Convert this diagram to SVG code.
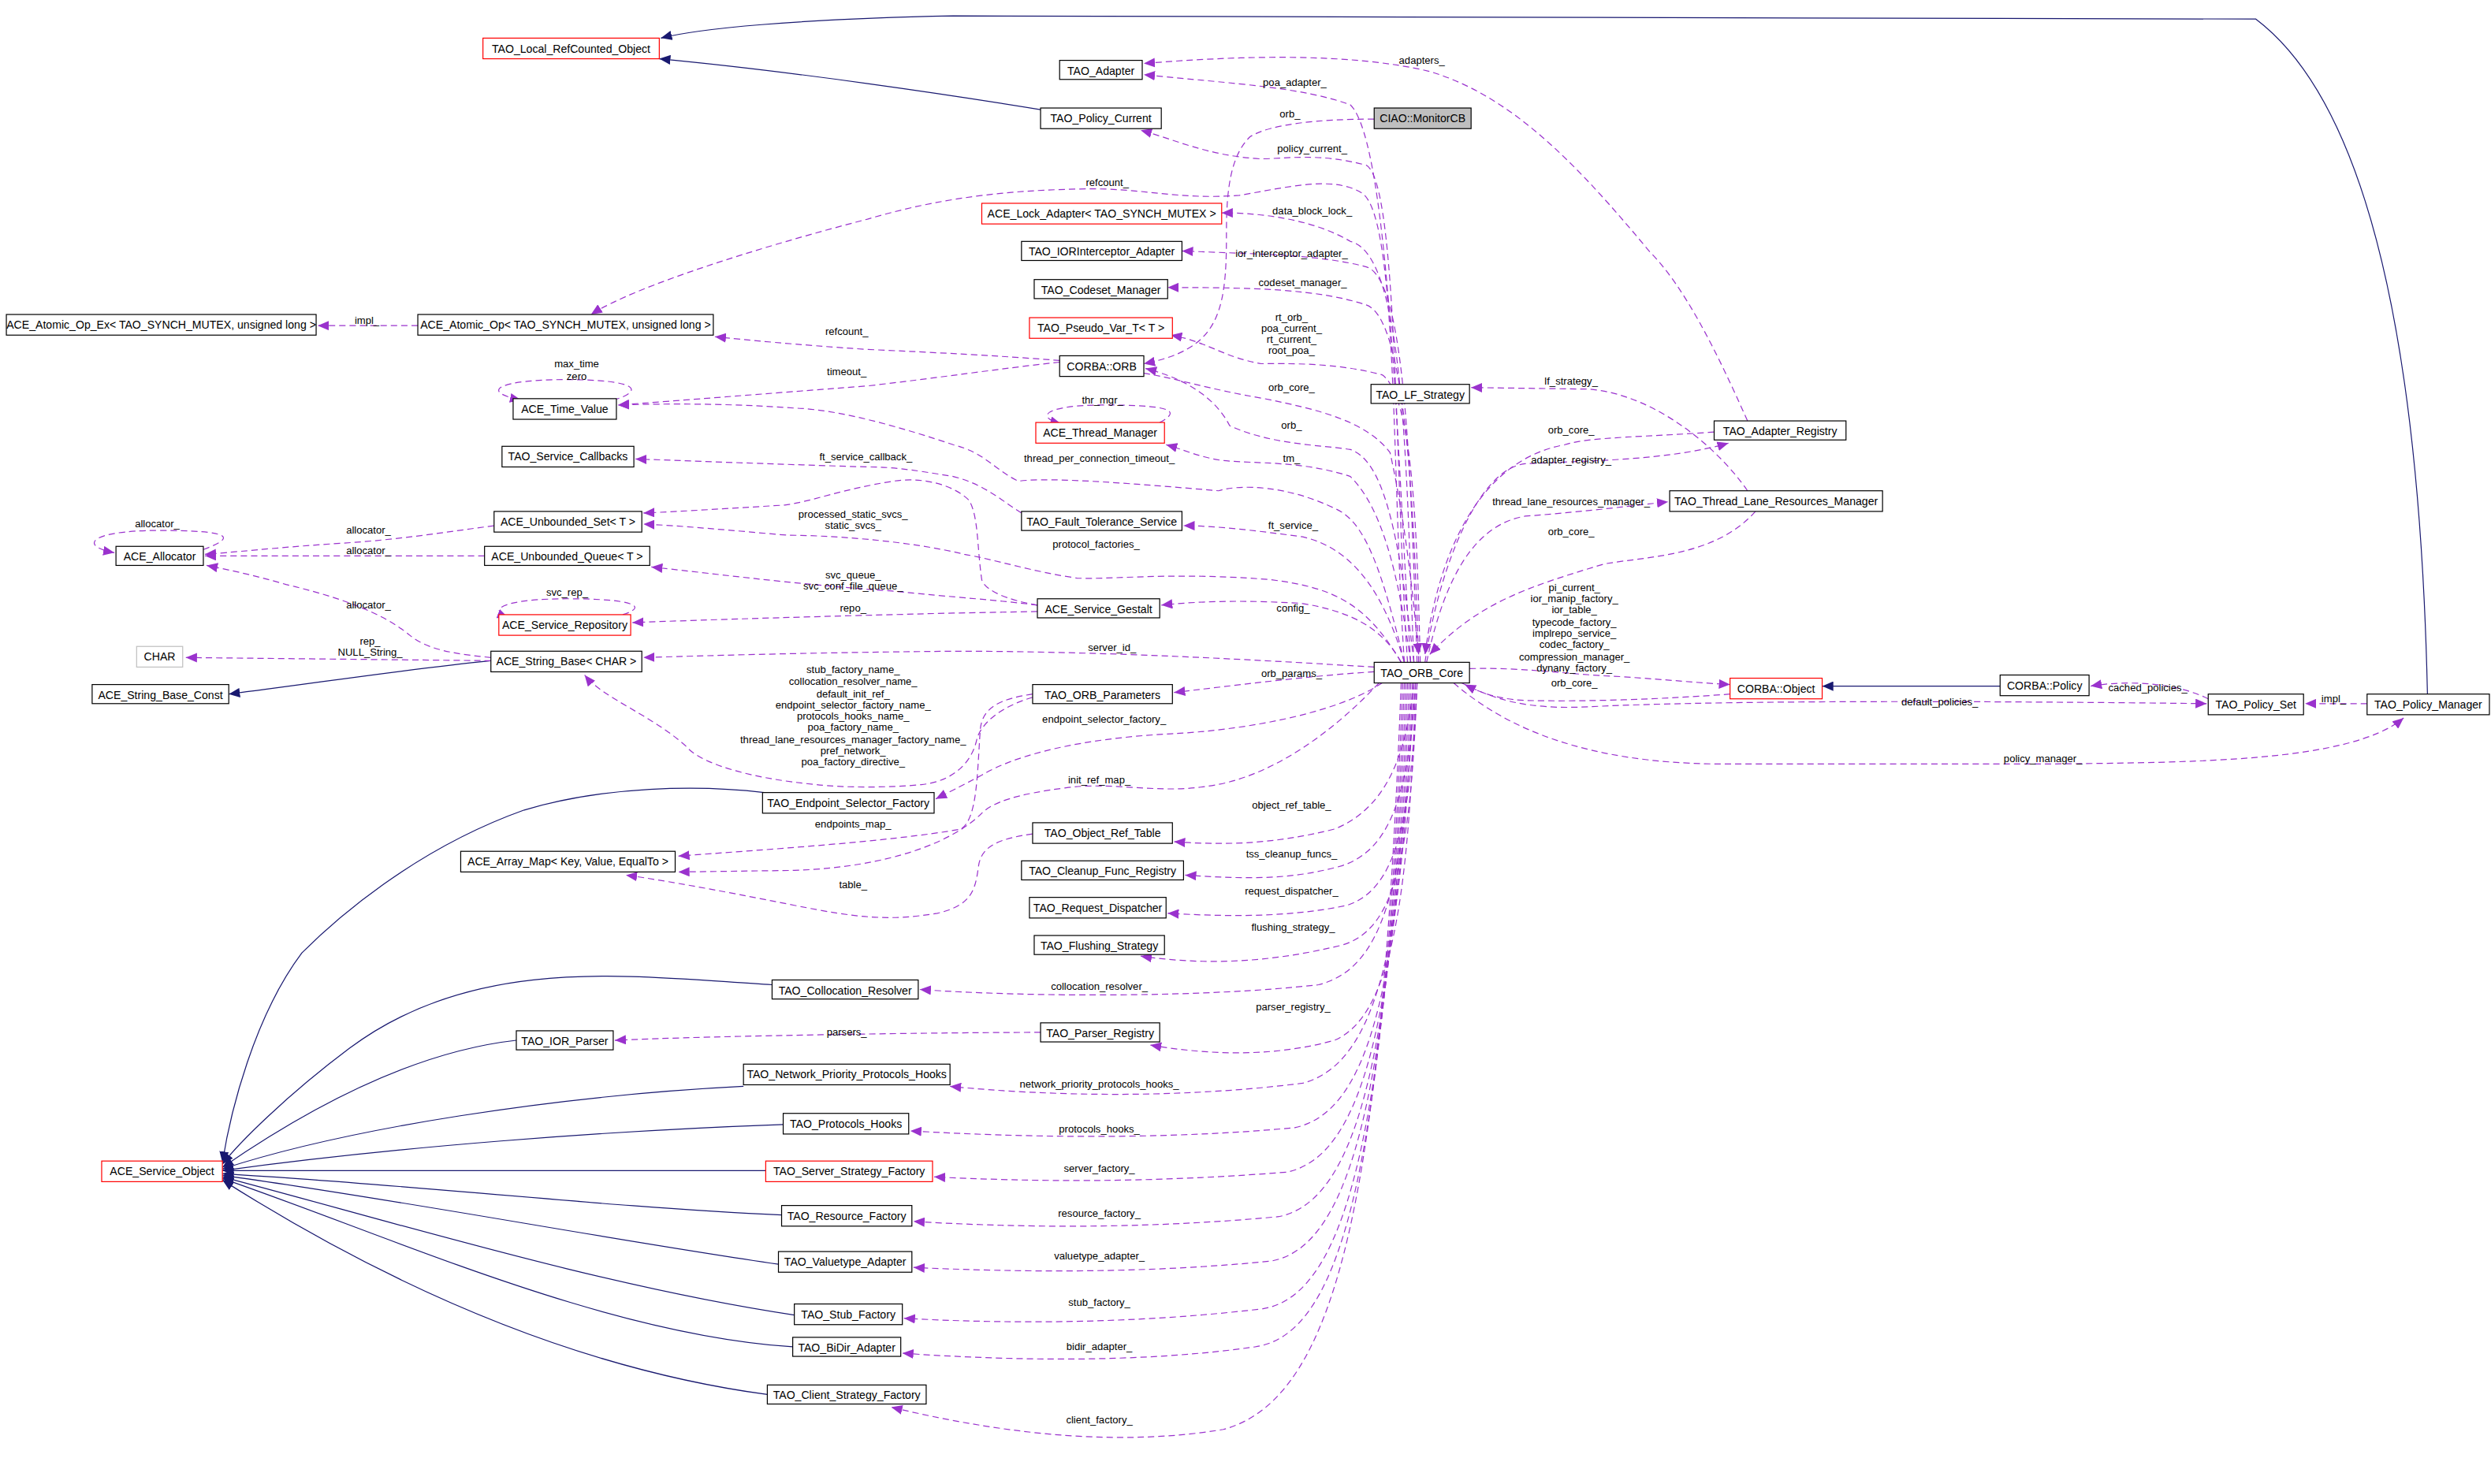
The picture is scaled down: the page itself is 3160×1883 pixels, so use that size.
<svg xmlns="http://www.w3.org/2000/svg" width="3160" height="1883" viewBox="0 0 3160 1883">
<defs>
<marker id="ap" markerUnits="userSpaceOnUse" markerWidth="7" markerHeight="6" refX="7" refY="3" orient="auto"><path d="M0,0 L7,3 L0,6 z" fill="#9a32cd"/></marker>
<marker id="an" markerUnits="userSpaceOnUse" markerWidth="7" markerHeight="6" refX="7" refY="3" orient="auto"><path d="M0,0 L7,3 L0,6 z" fill="#191970"/></marker>
<style>
.n rect{fill:#fff;stroke:#000;stroke-width:0.6}
.n.r rect{stroke:#f00}
.n.g rect{stroke:#bfbfbf}
.n.f rect{fill:#bfbfbf}
.n text{font-family:"Liberation Sans",Arial,sans-serif;font-size:7px;text-anchor:middle;fill:#000}
.e path{fill:none}
.d{stroke:#9a32cd;stroke-width:0.6;stroke-dasharray:4,2.5;marker-end:url(#ap)}
.s{stroke:#191970;stroke-width:0.6;marker-end:url(#an)}
.l{font-family:"Liberation Sans",Arial,sans-serif;font-size:6.5px;text-anchor:middle;fill:#000}
</style>
</defs>
<rect width="3160" height="1883" fill="#fff"/>
<g transform="scale(2.0153)">
<g id="edges" class="e">
<path class="s" d="M1528,437 C1525,300 1510,80 1420,12 L600,10 C500,12 440,18 416,24"/>
<path class="s" d="M655,69 C600,60 500,45 415,37"/>
<path class="s" d="M1259,432 L1147,432"/>
<path class="s" d="M309,416 C250,422 200,430 144,437"/>
<path class="s" d="M481,499 C440,494 380,495 330,510 C260,535 210,580 190,600 C160,640 145,700 140,732"/>
<path class="s" d="M486,620 C400,615 300,600 220,660 C180,690 150,720 140,733"/>
<path class="s" d="M325,655 C280,660 220,680 140,735"/>
<path class="s" d="M468,684 C350,690 220,710 140,736"/>
<path class="s" d="M493,708 C380,712 250,722 140,737"/>
<path class="s" d="M482,737 L140,737"/>
<path class="s" d="M492,765 C380,760 250,745 140,739"/>
<path class="s" d="M490,796 C380,780 250,755 140,740"/>
<path class="s" d="M500,828 C380,810 250,770 140,741"/>
<path class="s" d="M499,848 C380,840 250,780 140,742"/>
<path class="s" d="M483,878 C350,860 230,800 140,743"/>

<path class="d" d="M888,417 C880,300 875,90 850,66 C820,55 780,53 720,47"/>
<path class="d" d="M1100,265 C1080,220 1060,180 1038,158 C990,100 950,60 900,45 C850,33 780,35 720,40"/>
<path class="d" d="M865,75 C830,75 800,78 787,86 C772,100 772,130 772,150 C772,200 765,220 720,229"/>
<path class="d" d="M886,417 C878,300 880,115 860,104 C830,96 810,100 793,100 C760,98 740,88 718,82"/>
<path class="d" d="M884,417 C876,300 880,140 858,122 C840,110 810,118 780,123 C740,126 720,118 680,119 C620,120 580,128 546,138 C480,155 400,180 372,198"/>
<path class="d" d="M890,417 C885,300 885,160 850,152 C830,140 800,134 769,134"/>
<path class="d" d="M892,417 C888,300 885,175 860,168 C830,160 790,160 744,158"/>
<path class="d" d="M893,417 C890,320 885,200 860,192 C830,182 790,181 735,181"/>
<path class="d" d="M894,417 C892,340 890,250 870,236 C840,228 810,229 794,229 C770,225 760,215 737,211"/>
<path class="d" d="M720,235 C740,238 760,245 796,251 C830,258 860,265 875,285 C885,330 890,380 893,412"/>
<path class="d" d="M890,417 C880,330 870,290 850,283 C830,280 800,280 774,268 C765,250 745,238 721,232"/>
<path class="d" d="M888,417 C880,360 870,320 850,300 C820,290 790,292 770,290 C755,288 745,283 734,280"/>
<path class="d" d="M884,417 C870,360 860,330 842,321 C810,305 780,305 767,309 C720,305 660,300 641,303 C625,295 620,285 600,280 C570,270 530,258 501,257 C460,254 420,254 389,255"/>
<path class="d" d="M667,228 C630,232 590,238 546,243 C480,248 430,252 389,255"/>
<path class="d" d="M667,227 C630,224 590,222 546,220 C500,217 470,214 450,212"/>
<path class="d" d="M386,252 C406,246 402,239 356,239 C316,239 300,246 328,252"/>
<path class="d" d="M730,266 C745,258 735,255 694,255 C660,255 650,262 668,267"/>
<path class="d" d="M884,417 C870,370 850,345 820,338 C790,334 765,331 745,331"/>
<path class="d" d="M643,323 C630,315 620,305 600,300 C570,295 560,294 546,294 C480,292 430,290 400,289"/>
<path class="d" d="M653,381 C635,378 620,372 618,365 C615,345 616,325 610,315 C600,305 580,300 562,303 C530,308 510,316 494,318 C460,320 430,322 405,323"/>
<path class="d" d="M882,417 C860,380 840,370 800,365 C740,360 700,365 678,364 C650,360 625,352 607,349 C570,340 520,337 496,337 C460,334 430,331 405,330"/>
<path class="d" d="M653,381 C630,378 600,376 560,372 C500,368 440,360 410,357"/>
<path class="d" d="M653,385 L600,386 C520,388 450,390 398,392"/>
<path class="d" d="M392,387 C408,382 400,377 357,377 C320,377 305,383 320,389"/>
<path class="d" d="M882,417 C870,395 850,385 820,380 C790,378 760,378 731,381"/>
<path class="d" d="M311,331 C280,335 250,340 215,342 C170,345 145,348 129,349"/>
<path class="d" d="M305,350 L129,350"/>
<path class="d" d="M309,414 C290,412 270,410 258,400 C240,385 210,375 180,368 C160,362 140,358 130,356"/>
<path class="d" d="M128,346 C150,338 145,334 100,334 C55,334 50,344 72,348"/>
<path class="d" d="M309,416 L117,414"/>
<path class="d" d="M865,420 C800,416 700,410 600,410 C500,411 440,413 405,414"/>
<path class="d" d="M650,439 C630,445 618,455 615,465 C612,480 600,492 580,494 C560,496 530,496 514,494 C470,490 440,480 432,470 C410,450 380,440 368,425"/>
<path class="d" d="M865,423 C830,425 790,430 739,436"/>
<path class="d" d="M870,430 C840,450 780,460 737,462 C680,465 640,475 618,488 C605,495 595,500 589,503"/>
<path class="d" d="M868,430 C840,460 800,490 760,495 C730,500 700,492 671,496 C640,500 625,505 618,512 C600,530 560,546 500,548 L427,549"/>
<path class="d" d="M650,437 C630,440 618,445 617,460 C615,490 615,515 605,522 C560,530 480,535 427,539"/>
<path class="d" d="M650,525 C630,528 618,532 616,545 C614,560 612,570 590,575 C560,580 540,578 500,570 C450,560 410,553 394,551"/>
<path class="d" d="M890,430 C885,480 870,510 840,522 C800,532 770,532 739,530"/>
<path class="d" d="M891,430 C887,500 875,535 845,545 C810,555 780,553 746,551"/>
<path class="d" d="M892,430 C888,520 878,560 848,570 C810,578 770,577 735,575"/>
<path class="d" d="M892,430 C888,540 878,585 845,595 C800,606 760,608 718,602"/>
<path class="d" d="M890,430 C885,560 870,610 830,620 C760,628 650,628 579,623"/>
<path class="d" d="M891,430 C887,570 875,640 840,655 C800,666 760,664 724,658"/>
<path class="d" d="M655,650 C600,650 450,652 387,655"/>
<path class="d" d="M889,430 C884,600 865,670 820,682 C740,692 660,690 598,684"/>
<path class="d" d="M888,430 C882,620 862,700 815,710 C730,718 640,716 573,712"/>
<path class="d" d="M887,430 C880,640 858,728 810,738 C720,745 650,744 588,741"/>
<path class="d" d="M886,430 C878,660 855,756 805,766 C720,774 640,773 575,769"/>
<path class="d" d="M885,430 C876,680 852,785 800,794 C720,802 640,801 575,798"/>
<path class="d" d="M884,430 C874,700 850,815 795,824 C720,833 640,834 569,830"/>
<path class="d" d="M883,430 C872,720 848,840 790,848 C720,858 640,857 568,852"/>
<path class="d" d="M882,430 C870,740 845,880 770,900 C710,910 640,905 561,886"/>
<path class="d" d="M1100,309 C1080,280 1040,248 1000,245 L926,244"/>
<path class="d" d="M1079,272 C1040,275 1000,275 985,280 C930,290 905,350 897,412"/>
<path class="d" d="M897,417 C905,360 930,295 960,292 C1000,290 1050,290 1088,279"/>
<path class="d" d="M898,417 C910,360 930,330 960,325 C1000,322 1030,318 1050,316"/>
<path class="d" d="M1105,322 C1080,350 1040,350 1010,355 C960,370 930,380 900,412"/>
<path class="d" d="M925,421 C960,420 990,425 1020,426 C1050,428 1070,430 1089,431"/>
<path class="d" d="M1089,437 C1050,440 1000,442 960,441 C940,440 930,435 922,431"/>
<path class="d" d="M920,430 C940,440 960,447 1000,445 C1100,440 1300,442 1389,443"/>
<path class="d" d="M915,430 C950,460 1000,480 1080,481 L1290,481 C1380,480 1480,480 1513,452"/>
<path class="d" d="M1390,440 C1370,430 1340,428 1316,432"/>
<path class="d" d="M1490,443 L1451,443"/>
<path class="d" d="M263,205 L200,205"/>
</g>
<g id="labels">
<text class="l" x="895" y="40">adapters_</text>
<text class="l" x="815" y="54">poa_adapter_</text>
<text class="l" x="812" y="74">orb_</text>
<text class="l" x="826" y="96">policy_current_</text>
<text class="l" x="697" y="117">refcount_</text>
<text class="l" x="826" y="135">data_block_lock_</text>
<text class="l" x="813" y="162">ior_interceptor_adapter_</text>
<text class="l" x="820" y="180">codeset_manager_</text>
<text class="l" x="813" y="202">rt_orb_</text>
<text class="l" x="813" y="209">poa_current_</text>
<text class="l" x="813" y="216">rt_current_</text>
<text class="l" x="813" y="223">root_poa_</text>
<text class="l" x="813" y="246">orb_core_</text>
<text class="l" x="694" y="254">thr_mgr_</text>
<text class="l" x="813" y="270">orb_</text>
<text class="l" x="813" y="291">tm_</text>
<text class="l" x="692" y="291">thread_per_connection_timeout_</text>
<text class="l" x="231" y="204">impl_</text>
<text class="l" x="533" y="211">refcount_</text>
<text class="l" x="533" y="236">timeout_</text>
<text class="l" x="363" y="231">max_time</text>
<text class="l" x="363" y="239">zero</text>
<text class="l" x="545" y="290">ft_service_callback_</text>
<text class="l" x="814" y="333">ft_service_</text>
<text class="l" x="537" y="326">processed_static_svcs_</text>
<text class="l" x="537" y="333">static_svcs_</text>
<text class="l" x="690" y="345">protocol_factories_</text>
<text class="l" x="537" y="364">svc_queue_</text>
<text class="l" x="537" y="371">svc_conf_file_queue_</text>
<text class="l" x="814" y="385">config_</text>
<text class="l" x="537" y="385">repo_</text>
<text class="l" x="357" y="375">svc_rep_</text>
<text class="l" x="99" y="332">allocator_</text>
<text class="l" x="232" y="336">allocator_</text>
<text class="l" x="232" y="349">allocator_</text>
<text class="l" x="232" y="383">allocator_</text>
<text class="l" x="233" y="406">rep_</text>
<text class="l" x="233" y="413">NULL_String_</text>
<text class="l" x="700" y="410">server_id_</text>
<text class="l" x="813" y="426">orb_params_</text>
<text class="l" x="537" y="424">stub_factory_name_</text>
<text class="l" x="537" y="431">collocation_resolver_name_</text>
<text class="l" x="537" y="439">default_init_ref_</text>
<text class="l" x="537" y="446">endpoint_selector_factory_name_</text>
<text class="l" x="537" y="453">protocols_hooks_name_</text>
<text class="l" x="537" y="460">poa_factory_name_</text>
<text class="l" x="537" y="468">thread_lane_resources_manager_factory_name_</text>
<text class="l" x="537" y="475">pref_network_</text>
<text class="l" x="537" y="482">poa_factory_directive_</text>
<text class="l" x="695" y="455">endpoint_selector_factory_</text>
<text class="l" x="692" y="493">init_ref_map_</text>
<text class="l" x="537" y="521">endpoints_map_</text>
<text class="l" x="537" y="559">table_</text>
<text class="l" x="813" y="509">object_ref_table_</text>
<text class="l" x="813" y="540">tss_cleanup_funcs_</text>
<text class="l" x="813" y="563">request_dispatcher_</text>
<text class="l" x="814" y="586">flushing_strategy_</text>
<text class="l" x="692" y="623">collocation_resolver_</text>
<text class="l" x="814" y="636">parser_registry_</text>
<text class="l" x="533" y="652">parsers_</text>
<text class="l" x="692" y="685">network_priority_protocols_hooks_</text>
<text class="l" x="692" y="713">protocols_hooks_</text>
<text class="l" x="692" y="738">server_factory_</text>
<text class="l" x="692" y="766">resource_factory_</text>
<text class="l" x="692" y="793">valuetype_adapter_</text>
<text class="l" x="692" y="822">stub_factory_</text>
<text class="l" x="692" y="850">bidir_adapter_</text>
<text class="l" x="692" y="896">client_factory_</text>
<text class="l" x="989" y="242">lf_strategy_</text>
<text class="l" x="989" y="273">orb_core_</text>
<text class="l" x="989" y="292">adapter_registry_</text>
<text class="l" x="989" y="318">thread_lane_resources_manager_</text>
<text class="l" x="989" y="337">orb_core_</text>
<text class="l" x="991" y="372">pi_current_</text>
<text class="l" x="991" y="379">ior_manip_factory_</text>
<text class="l" x="991" y="386">ior_table_</text>
<text class="l" x="991" y="394">typecode_factory_</text>
<text class="l" x="991" y="401">implrepo_service_</text>
<text class="l" x="991" y="408">codec_factory_</text>
<text class="l" x="991" y="416">compression_manager_</text>
<text class="l" x="991" y="423">dynany_factory_</text>
<text class="l" x="991" y="432">orb_core_</text>
<text class="l" x="1221" y="444">default_policies_</text>
<text class="l" x="1352" y="435">cached_policies_</text>
<text class="l" x="1469" y="442">impl_</text>
<text class="l" x="1286" y="480">policy_manager_</text>
</g>
<g id="n1" class="n r"><rect x="304" y="24" width="111" height="13"/><text x="359.5" y="33">TAO_Local_RefCounted_Object</text></g>
<g id="n2" class="n"><rect x="667" y="38" width="52" height="12"/><text x="693" y="47">TAO_Adapter</text></g>
<g id="n3" class="n"><rect x="655" y="68" width="76" height="13"/><text x="693" y="77">TAO_Policy_Current</text></g>
<g id="n4" class="n f"><rect x="865" y="68" width="61" height="13"/><text x="895.5" y="77">CIAO::MonitorCB</text></g>
<g id="n5" class="n r"><rect x="618" y="128" width="151" height="13"/><text x="693.5" y="137">ACE_Lock_Adapter&lt; TAO_SYNCH_MUTEX &gt;</text></g>
<g id="n6" class="n"><rect x="643" y="152" width="101" height="12"/><text x="693.5" y="161">TAO_IORInterceptor_Adapter</text></g>
<g id="n7" class="n"><rect x="651" y="176" width="84" height="12"/><text x="693" y="185">TAO_Codeset_Manager</text></g>
<g id="n8" class="n r"><rect x="648" y="200" width="90" height="13"/><text x="693" y="209">TAO_Pseudo_Var_T&lt; T &gt;</text></g>
<g id="n9" class="n"><rect x="667" y="224" width="53" height="13"/><text x="693.5" y="233">CORBA::ORB</text></g>
<g id="n10" class="n r"><rect x="652" y="266" width="81" height="13"/><text x="692.5" y="275">ACE_Thread_Manager</text></g>
<g id="n11" class="n"><rect x="863" y="242" width="62" height="12"/><text x="894" y="251">TAO_LF_Strategy</text></g>
<g id="n12" class="n"><rect x="1079" y="265" width="83" height="12"/><text x="1120.5" y="274">TAO_Adapter_Registry</text></g>
<g id="n13" class="n"><rect x="1051" y="309" width="134" height="13"/><text x="1118" y="318">TAO_Thread_Lane_Resources_Manager</text></g>
<g id="n14" class="n"><rect x="643" y="322" width="101" height="12"/><text x="693.5" y="331">TAO_Fault_Tolerance_Service</text></g>
<g id="n15" class="n"><rect x="653" y="377" width="77" height="12"/><text x="691.5" y="386">ACE_Service_Gestalt</text></g>
<g id="n16" class="n"><rect x="865" y="417" width="60" height="13"/><text x="895" y="426">TAO_ORB_Core</text></g>
<g id="n17" class="n r"><rect x="1089" y="427" width="58" height="13"/><text x="1118" y="436">CORBA::Object</text></g>
<g id="n18" class="n"><rect x="1259" y="425" width="56" height="13"/><text x="1287" y="434">CORBA::Policy</text></g>
<g id="n19" class="n"><rect x="1390" y="437" width="60" height="13"/><text x="1420" y="446">TAO_Policy_Set</text></g>
<g id="n20" class="n"><rect x="1490" y="437" width="77" height="13"/><text x="1528.5" y="446">TAO_Policy_Manager</text></g>
<g id="n21" class="n"><rect x="650" y="431" width="88" height="12"/><text x="694" y="440">TAO_ORB_Parameters</text></g>
<g id="n22" class="n"><rect x="480" y="499" width="108" height="13"/><text x="534" y="508">TAO_Endpoint_Selector_Factory</text></g>
<g id="n23" class="n"><rect x="650" y="518" width="88" height="13"/><text x="694" y="527">TAO_Object_Ref_Table</text></g>
<g id="n24" class="n"><rect x="643" y="542" width="102" height="12"/><text x="694" y="551">TAO_Cleanup_Func_Registry</text></g>
<g id="n25" class="n"><rect x="648" y="565" width="86" height="13"/><text x="691" y="574">TAO_Request_Dispatcher</text></g>
<g id="n26" class="n"><rect x="651" y="589" width="82" height="12"/><text x="692" y="598">TAO_Flushing_Strategy</text></g>
<g id="n27" class="n"><rect x="486" y="617" width="92" height="12"/><text x="532" y="626">TAO_Collocation_Resolver</text></g>
<g id="n28" class="n"><rect x="655" y="644" width="75" height="12"/><text x="692.5" y="653">TAO_Parser_Registry</text></g>
<g id="n29" class="n"><rect x="325" y="649" width="61" height="12"/><text x="355.5" y="658">TAO_IOR_Parser</text></g>
<g id="n30" class="n"><rect x="468" y="670" width="130" height="13"/><text x="533" y="679">TAO_Network_Priority_Protocols_Hooks</text></g>
<g id="n31" class="n"><rect x="493" y="701" width="79" height="13"/><text x="532.5" y="710">TAO_Protocols_Hooks</text></g>
<g id="n32" class="n r"><rect x="482" y="731" width="105" height="13"/><text x="534.5" y="740">TAO_Server_Strategy_Factory</text></g>
<g id="n33" class="n"><rect x="492" y="759" width="82" height="13"/><text x="533" y="768">TAO_Resource_Factory</text></g>
<g id="n34" class="n"><rect x="490" y="788" width="84" height="13"/><text x="532" y="797">TAO_Valuetype_Adapter</text></g>
<g id="n35" class="n"><rect x="500" y="821" width="68" height="13"/><text x="534" y="830">TAO_Stub_Factory</text></g>
<g id="n36" class="n"><rect x="499" y="842" width="68" height="12"/><text x="533" y="851">TAO_BiDir_Adapter</text></g>
<g id="n37" class="n"><rect x="483" y="872" width="100" height="12"/><text x="533" y="881">TAO_Client_Strategy_Factory</text></g>
<g id="n38" class="n r"><rect x="64" y="731" width="76" height="13"/><text x="102" y="740">ACE_Service_Object</text></g>
<g id="n39" class="n"><rect x="4" y="198" width="195" height="13"/><text x="101.5" y="207">ACE_Atomic_Op_Ex&lt; TAO_SYNCH_MUTEX, unsigned long &gt;</text></g>
<g id="n40" class="n"><rect x="263" y="198" width="186" height="13"/><text x="356" y="207">ACE_Atomic_Op&lt; TAO_SYNCH_MUTEX, unsigned long &gt;</text></g>
<g id="n41" class="n"><rect x="323" y="251" width="65" height="13"/><text x="355.5" y="260">ACE_Time_Value</text></g>
<g id="n42" class="n"><rect x="316" y="281" width="83" height="13"/><text x="357.5" y="290">TAO_Service_Callbacks</text></g>
<g id="n43" class="n"><rect x="311" y="322" width="93" height="13"/><text x="357.5" y="331">ACE_Unbounded_Set&lt; T &gt;</text></g>
<g id="n44" class="n"><rect x="73" y="344" width="55" height="12"/><text x="100.5" y="353">ACE_Allocator</text></g>
<g id="n45" class="n"><rect x="305" y="344" width="104" height="12"/><text x="357" y="353">ACE_Unbounded_Queue&lt; T &gt;</text></g>
<g id="n46" class="n r"><rect x="314" y="387" width="83" height="13"/><text x="355.5" y="396">ACE_Service_Repository</text></g>
<g id="n47" class="n g"><rect x="86" y="407" width="29" height="13"/><text x="100.5" y="416">CHAR</text></g>
<g id="n48" class="n"><rect x="309" y="410" width="95" height="13"/><text x="356.5" y="419">ACE_String_Base&lt; CHAR &gt;</text></g>
<g id="n49" class="n"><rect x="58" y="431" width="86" height="12"/><text x="101" y="440">ACE_String_Base_Const</text></g>
<g id="n50" class="n"><rect x="290" y="536" width="135" height="13"/><text x="357.5" y="545">ACE_Array_Map&lt; Key, Value, EqualTo &gt;</text></g>
</g>
</svg>
